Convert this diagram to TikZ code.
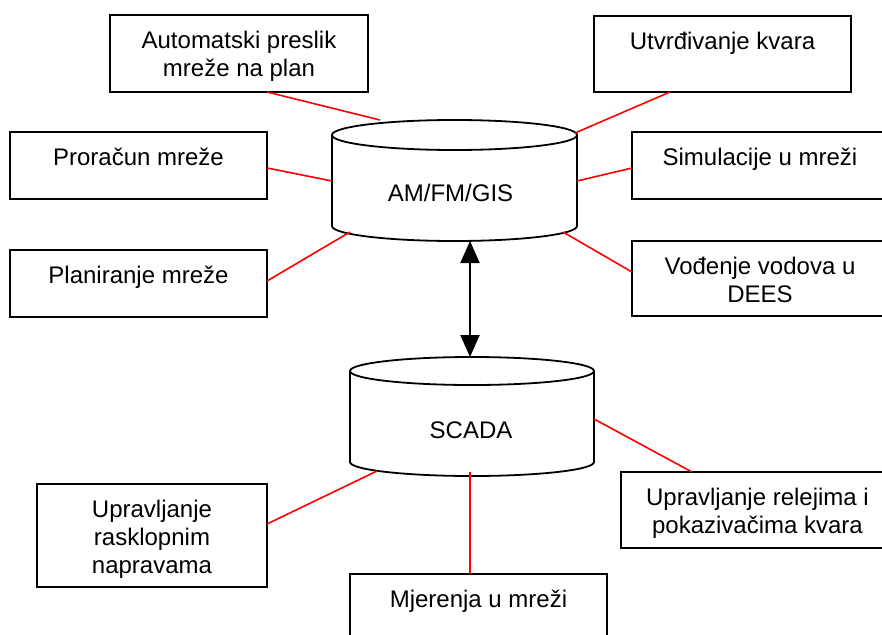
\documentclass[tikz,border=0pt]{standalone}
\usepackage{fontspec}
\setmainfont{Liberation Sans}
\usetikzlibrary{arrows.meta}
\begin{document}
\begin{tikzpicture}[x=1pt,y=-1pt,
  box/.style={draw=black, line width=1.8pt, fill=white, inner sep=0pt, outer sep=0pt},
  txt/.style={font=\fontsize{24}{28}\selectfont, align=center, inner sep=0pt, anchor=north},
  lbl/.style={font=\fontsize{24}{28}\selectfont, inner sep=0pt, anchor=base},
  cylbody/.style={inner sep=0pt, outer sep=0pt},
  cyl/.style={draw=black, line width=1.8pt, fill=white},
  link/.style={draw=red, line width=1.6pt},
  both/.style={draw=black, line width=2pt,
    {Triangle[length=22pt,width=19pt]}-{Triangle[length=22pt,width=19pt]}}
]
\fill[white] (0,0) rectangle (882,634);
\useasboundingbox (0,0) rectangle (882,634);
\clip (0,0) rectangle (882,634);

% ---- task boxes ----
\node[box, minimum width=258pt, minimum height=77pt] (auto) at (239,53.5) {};
\node[box, minimum width=257pt, minimum height=76pt] (utv)  at (722.5,54) {};
\node[box, minimum width=258pt, minimum height=67pt] (sim)  at (761,165.5) {};
\node[box, minimum width=258pt, minimum height=75pt] (vod)  at (761,278.5) {};
\node[box, minimum width=257pt, minimum height=67pt] (pror) at (138.5,165.5) {};
\node[box, minimum width=257pt, minimum height=67pt] (plan) at (138.5,283.5) {};
\node[box, minimum width=230pt, minimum height=103pt] (rask) at (152,535.5) {};
\node[box, minimum width=257pt, minimum height=76pt] (mjer) at (478.5,612) {};
\node[box, minimum width=270pt, minimum height=76pt] (rel)  at (756,510) {};

\node[txt] (auto-t) at ([yshift=-13.4pt]auto.north) {\strut Automatski preslik\\mreže na plan};
\node[txt] (utv-t)  at ([yshift=-13.4pt]utv.north)  {\strut Utvrđivanje kvara};
\node[txt] (sim-t)  at ([yshift=-13.4pt,xshift=-1pt]sim.north)  {\strut Simulacije u mreži};
\node[txt] (vod-t)  at ([yshift=-13.4pt,xshift=-1pt]vod.north)  {\strut Vođenje vodova u\\DEES};
\node[txt] (pror-t) at ([yshift=-13.4pt]pror.north) {\strut Proračun mreže};
\node[txt] (plan-t) at ([yshift=-13.4pt]plan.north) {\strut Planiranje mreže};
\node[txt] (rask-t) at ([yshift=-13.4pt]rask.north) {\strut Upravljanje\\rasklopnim\\napravama};
\node[txt] (mjer-t) at ([yshift=-13.4pt]mjer.north) {\strut Mjerenja u mreži};
\node[txt] (rel-t)  at ([yshift=-13.4pt,xshift=1.5pt]rel.north)  {\strut Upravljanje relejima i\\pokazivačima kvara};

% ---- databases ----
\node[cylbody, minimum width=245pt, minimum height=121pt] (gis) at (454.5,180.5) {};
\draw[cyl] ([yshift=-15pt]gis.north west) -- ([yshift=15pt]gis.south west)
  arc[start angle=180, end angle=360, x radius=122.5pt, y radius=15pt]
  -- ([yshift=-15pt]gis.north east);
\draw[cyl] ([yshift=-15pt]gis.north) ellipse [x radius=122.5pt, y radius=15pt];
\node[lbl] (gis-t) at (450.5,201) {AM/FM/GIS};

\node[cylbody, minimum width=244pt, minimum height=119pt] (scada) at (472,416.5) {};
\draw[cyl] ([yshift=-14pt]scada.north west) -- ([yshift=14pt]scada.south west)
  arc[start angle=180, end angle=360, x radius=122pt, y radius=14pt]
  -- ([yshift=-14pt]scada.north east);
\draw[cyl] ([yshift=-14pt]scada.north) ellipse [x radius=122pt, y radius=14pt];
\node[lbl] (scada-t) at (471,438) {SCADA};

% ---- attachment points on the databases ----
\coordinate (gis-a) at (380,120);
\coordinate (gis-b) at (575,133);
\coordinate (gis-c) at (577,181);
\coordinate (gis-d) at (563,232);
\coordinate (gis-e) at (332,181);
\coordinate (gis-f) at (350,232);
\coordinate (scada-a) at (377,471);
\coordinate (scada-b) at (470,472);
\coordinate (scada-c) at (594,419);

% ---- red links ----
\draw[link] ([xshift=28pt]auto.south) -- (gis-a);
\draw[link] ([xshift=-52.5pt]utv.south) -- (gis-b);
\draw[link] ([yshift=-2.5pt]sim.west) -- (gis-c);
\draw[link] ([yshift=6.5pt]vod.west) -- (gis-d);
\draw[link] ([yshift=-2.5pt]pror.east) -- (gis-e);
\draw[link] ([yshift=2.5pt]plan.east) -- (gis-f);
\draw[link] ([yshift=11.5pt]rask.east) -- (scada-a);
\draw[link] ([xshift=-8.5pt]mjer.north) -- (scada-b);
\draw[link] ([xshift=71pt]rel.north west) -- (scada-c);

% ---- data exchange between the two systems ----
\draw[both] ([xshift=-2pt]gis.south -| scada.north) -- ([xshift=-2pt]scada.north);
\end{tikzpicture}
\end{document}
